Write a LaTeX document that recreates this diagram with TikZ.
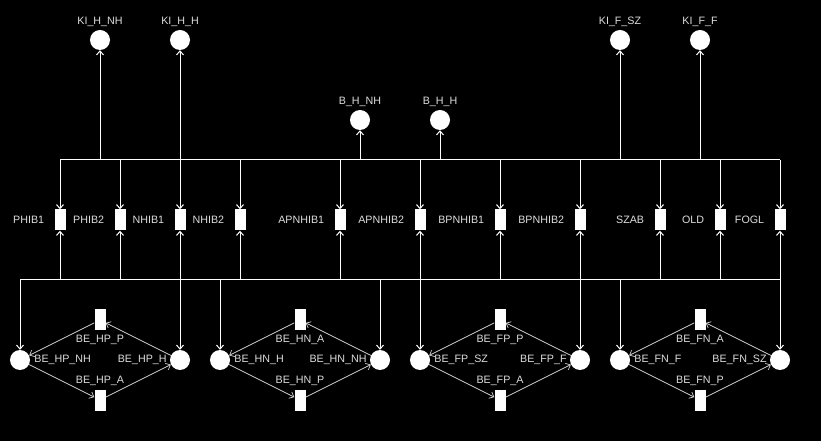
\documentclass[tikz,border=0pt]{standalone}
\usepackage{fontspec}
\setmainfont{Liberation Sans}
\usetikzlibrary{arrows.meta}
\definecolor{txtgrey}{HTML}{DDDDDD}
\definecolor{arcgrey}{HTML}{D0D0D0}
\begin{document}
\begin{tikzpicture}[x=1bp,y=-1bp,
  place/.style={circle,fill=white,draw=none,minimum size=20bp,inner sep=0pt},
  trans/.style={rectangle,fill=white,draw=none,minimum width=11bp,minimum height=21bp,inner sep=0pt},
  lbl/.style={text=txtgrey,font=\fontsize{10.7bp}{12bp}\selectfont,inner sep=0pt},
  bus/.style={draw=white,line width=1bp},
  busarc/.style={bus,-{Straight Barb[length=4bp,width=7bp]}},
  arc/.style={draw=arcgrey,line width=0.7bp,-{Straight Barb[length=4bp,width=7bp]}},
]
\fill[black] (0,0) rectangle (821,441);
\useasboundingbox (0,0) rectangle (821,441);

% top places
\node[place,label={[lbl,label distance=3bp]above:KI\_H\_NH}] (kihnh) at (100,40) {};
\node[place,label={[lbl,label distance=3bp]above:KI\_H\_H}] (kihh) at (180,40) {};
\node[place,label={[lbl,label distance=3bp]above:B\_H\_NH}] (bhnh) at (360,120) {};
\node[place,label={[lbl,label distance=3bp]above:B\_H\_H}] (bhh) at (440,120) {};
\node[place,label={[lbl,label distance=3bp]above:KI\_F\_SZ}] (kifsz) at (620,40) {};
\node[place,label={[lbl,label distance=3bp]above:KI\_F\_F}] (kiff) at (700,40) {};

% transitions
\foreach \n/\x/\t in {phibA/60/PHIB1,phibB/120/PHIB2,nhibA/180/NHIB1,nhibB/240/NHIB2,
  apnhibA/340/APNHIB1,apnhibB/420/APNHIB2,bpnhibA/500/BPNHIB1,bpnhibB/580/BPNHIB2,
  szab/660/SZAB,old/720/OLD,fogl/780/FOGL}{
  \node[trans,label={[lbl,label distance=10bp]left:\t}] (\n) at (\x,220) {};
}

% buses
\coordinate (tbL) at (60,160);
\coordinate (tbR) at (780,160);
\coordinate (bbL) at (20,280);
\coordinate (bbR) at (780,280);
\draw[bus] (tbL) -- (tbR);
\draw[bus] (bbL) -- (bbR);

\foreach \n in {phibA,phibB,nhibA,nhibB,apnhibA,apnhibB,bpnhibA,bpnhibB,szab,old,fogl}{
  \draw[busarc] (\n |- tbL) -- (\n);
  \draw[busarc] (\n |- bbL) -- (\n);
}
\foreach \n in {kihnh,kihh,bhnh,bhh,kifsz,kiff}{
  \draw[busarc] (\n |- tbL) -- (\n);
}

% bottom nets
\foreach \o/\n/\tl/\ll/\rl/\bl in {
  0/a/BE\_HP\_P/BE\_HP\_NH/BE\_HP\_H/BE\_HP\_A,
  200/b/BE\_HN\_A/BE\_HN\_H/BE\_HN\_NH/BE\_HN\_P,
  400/c/BE\_FP\_P/BE\_FP\_SZ/BE\_FP\_F/BE\_FP\_A,
  600/d/BE\_FN\_A/BE\_FN\_F/BE\_FN\_SZ/BE\_FN\_P}{
  \node[place,label={[lbl,label distance=4bp]right:\ll}] (L\n) at (20+\o,360) {};
  \node[place,label={[lbl,label distance=3bp]left:\rl}] (R\n) at (180+\o,360) {};
  \node[trans,label={[lbl,label distance=4bp]below:\tl}] (T\n) at (100+\o,320) {};
  \node[trans,label={[lbl,label distance=3bp]above:\bl}] (B\n) at (100+\o,400) {};
  \draw[arc] (L\n) -- (B\n);
  \draw[arc] (B\n) -- (R\n);
  \draw[arc] (R\n) -- (T\n);
  \draw[arc] (T\n) -- (L\n);
  \draw[busarc] (L\n |- bbL) -- (L\n);
  \draw[busarc] (R\n |- bbL) -- (R\n);
}
\end{tikzpicture}
\end{document}
